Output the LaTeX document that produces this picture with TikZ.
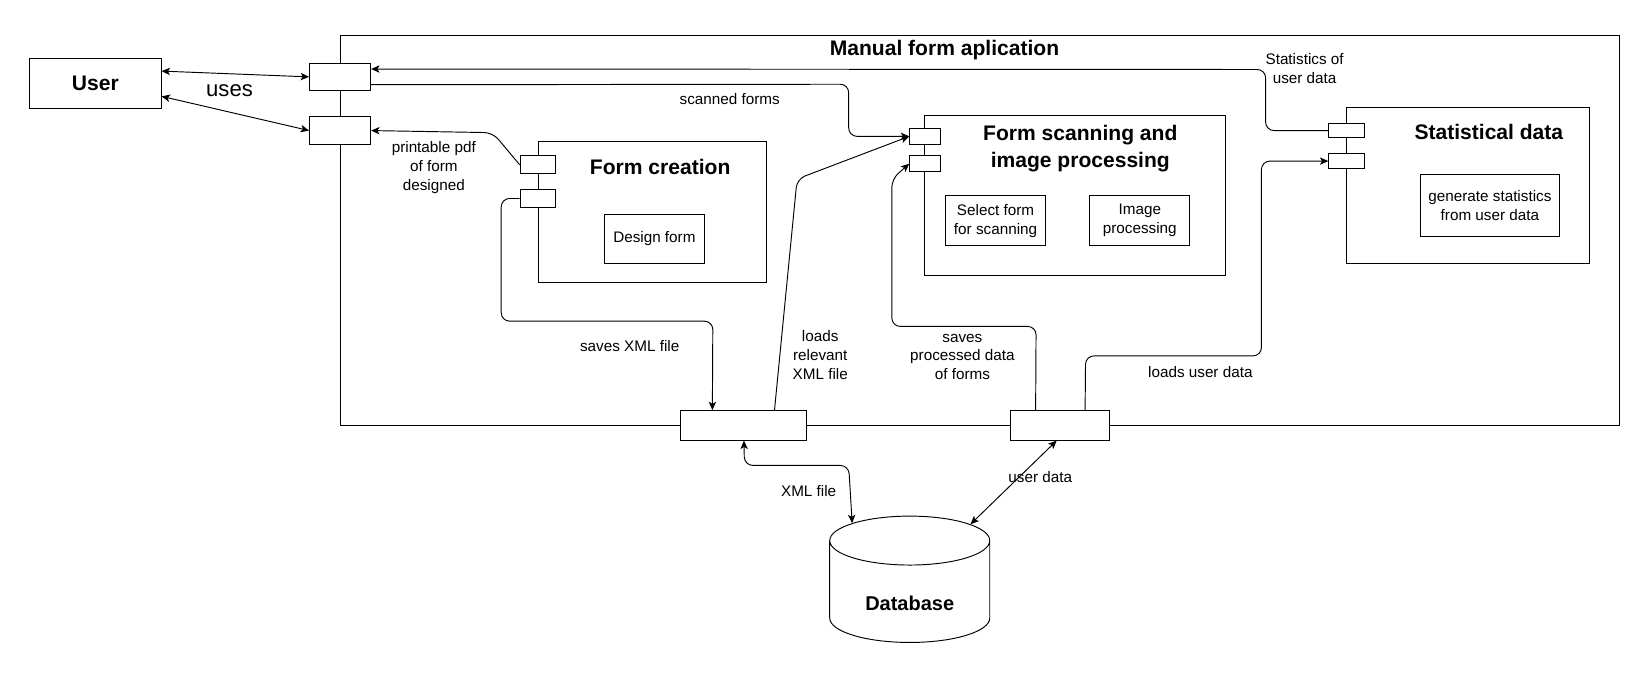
\documentclass[tikz,border=0pt]{standalone}
\usepackage{fontspec}
\setmainfont{Liberation Sans}
\usetikzlibrary{arrows.meta,shapes.geometric,calc}

\begin{document}
\begin{tikzpicture}[x=1pt,y=-1pt,line width=0.9pt,
  comp/.style={draw, rectangle, inner sep=0pt},
  port/.style={draw, rectangle, fill=white, inner sep=0pt},
  ttl/.style={font=\fontsize{20}{25}\selectfont\bfseries, align=center},
  lbl/.style={font=\fontsize{14.5}{18}\selectfont, align=center},
  task/.style={draw, rectangle, inner sep=0pt, align=center, font=\fontsize{14.5}{18}\selectfont},
  flow/.style={-{Stealth[length=8pt,width=7pt,inset=2pt]}, rounded corners=8pt},
  dflow/.style={{Stealth[length=8pt,width=7pt,inset=2pt]}-{Stealth[length=8pt,width=7pt,inset=2pt]}, rounded corners=8pt}]
\useasboundingbox (0,0) rectangle (1568,643);
\node[comp, minimum width=125pt, minimum height=47pt, ttl] (user) at (90.5,79.5) {User};
\node[comp, minimum width=1215pt, minimum height=370pt] (app) at (930.5,219) {};
\node[ttl] (appttl) at (897,48) {Manual form aplication};
\node[port, minimum width=58pt, minimum height=26pt] (pA) at (323,73) {};
\node[port, minimum width=58pt, minimum height=26pt] (pB) at (323,124) {};
\node[comp, minimum width=217pt, minimum height=134pt] (fc) at (619.5,201) {};
\node[ttl] (fcttl) at (627,159) {Form creation};
\node[port, minimum width=34pt, minimum height=17pt] (pC1) at (511,156.5) {};
\node[port, minimum width=34pt, minimum height=17pt] (pC2) at (511,188.5) {};
\node[task, minimum width=95pt, minimum height=46pt] (design) at (621.5,227) {Design form};
\node[comp, minimum width=286pt, minimum height=152pt] (fs) at (1021,186) {};
\node[ttl] (fsttl) at (1026,141) {Form scanning and\\image processing};
\node[port, minimum width=29pt, minimum height=15pt] (pE1) at (878.5,129.5) {};
\node[port, minimum width=29pt, minimum height=15pt] (pE2) at (878.5,155.5) {};
\node[task, minimum width=95pt, minimum height=47pt] (select) at (945.5,209.5) {Select form\\for scanning};
\node[task, minimum width=95pt, minimum height=47pt] (imgproc) at (1082.5,209.5) {Image\\processing};
\node[comp, minimum width=231pt, minimum height=148pt] (sd) at (1394.5,176) {};
\node[ttl] (sdttl) at (1414,125) {Statistical data};
\node[port, minimum width=34pt, minimum height=14pt] (pF1) at (1279,124) {};
\node[port, minimum width=34pt, minimum height=14pt] (pF2) at (1279,153) {};
\node[task, minimum width=132pt, minimum height=59pt] (stats) at (1415,195.5) {generate statistics\\from user data};
\node[port, minimum width=120pt, minimum height=28pt] (pD1) at (706,404) {};
\node[port, minimum width=94pt, minimum height=28pt] (pD2) at (1007,404) {};
\node[draw, cylinder, shape border rotate=90, aspect=0.55, minimum width=152pt, minimum height=120pt, inner sep=0pt, text height=36pt, text depth=0pt, font=\fontsize{19}{23}\selectfont\bfseries] (db) at (864,562) {Database};
\draw[dflow] ($(user.north east)!0.25!(user.south east)$) -- (pA.west);
\draw[dflow] ($(user.north east)!0.75!(user.south east)$) -- (pB.west);
\node[font=\fontsize{21}{25}\selectfont] (uses) at (218,86) {uses};
\draw[flow] (pC1.west) -- (468,126) -- (pB.east);
\node[lbl] (lpdf) at (412,159) {printable pdf\\of form\\designed};
\draw[flow] (pC2.west) -- (476,188.5) -- (476,305) -- (677,305) -- ($(pD1.north west)+(31,0)$);
\node[lbl] (lsave) at (598,329) {saves XML file};
\draw[flow] ($(pA.south east)+(0,-6)$) -- (806,80) -- (806,129.5) -- (pE1.west);
\node[lbl] (lscan) at (693,94) {scanned forms};
\draw[flow] ($(pD1.north west)+(90,0)$) -- (757,170) -- (pE1.west);
\node[lbl] (lload) at (779,337) {loads\\relevant\\XML file};
\draw[flow] ($(pD2.north west)+(24,0)$) -- (984,310) -- (847,310) -- (847,170) -- (pE2.west);
\node[lbl] (lproc) at (914,339) {saves\\processed data\\of forms};
\draw[flow] ($(pD2.north west)+(71,0)$) -- (1031,338) -- (1198,338) -- (1198,153) -- (pF2.west);
\node[lbl] (luser) at (1140,353) {loads user data};
\draw[flow] (pF1.west) -- (1202,124) -- (1202,66) -- ($(pA.north east)+(0,6)$);
\node[lbl] (lstat) at (1239,65) {Statistics of\\user data};
\draw[dflow] ($(pD1.south west)+(61,0)$) -- (707,442) -- (806,442) -- (db.130);
\node[lbl] (lxml) at (768,466) {XML file};
\draw[dflow] ($(pD2.south west)+(44,0)$) -- (db.48);
\node[lbl] (ldata) at (988,453) {user data};
\end{tikzpicture}
\end{document}
